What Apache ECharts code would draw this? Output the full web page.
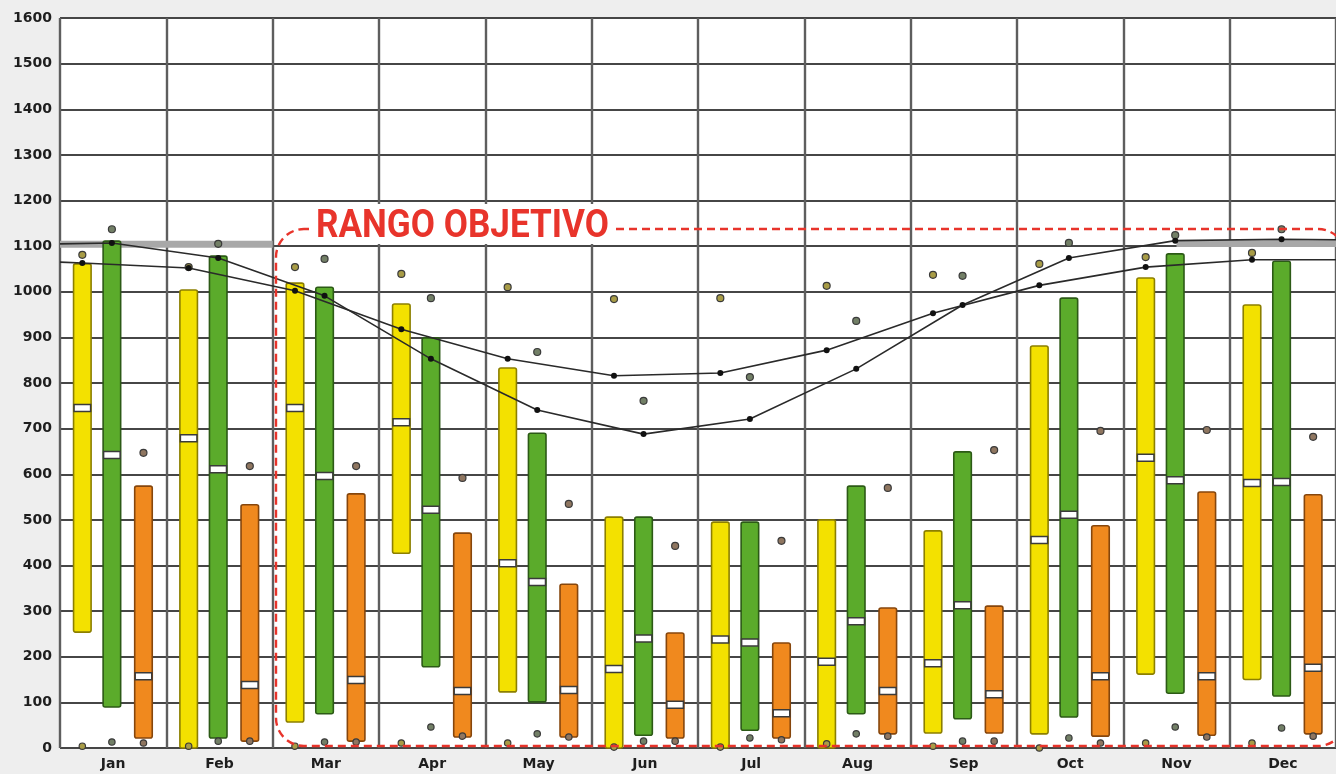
<!DOCTYPE html>
<html>
<head>
<meta charset="utf-8">
<title>Rango objetivo</title>
<script src="https://cdn.jsdelivr.net/npm/echarts@6/dist/echarts.min.js"></script>
<style>
  html, body { margin: 0; padding: 0; background: #eeeeee; }
  #main { width: 1336px; height: 774px; }
</style>
</head>
<body>
<div id="main"></div>
<script>
// months on the x axis
var months = ['Jan', 'Feb', 'Mar', 'Apr', 'May', 'Jun', 'Jul', 'Aug', 'Sep', 'Oct', 'Nov', 'Dec'];
var yTicks = [0, 100, 200, 300, 400, 500, 600, 700, 800, 900, 1000, 1100, 1200, 1300, 1400, 1500, 1600];

// yellow boxes
var yellowLow  = [254, 0, 57, 427, 123, 0, 0, 0, 33, 31, 162, 150];
var yellowHigh = [1061, 1004, 1019, 973, 833, 506, 495, 500, 476, 881, 1030, 971];
var yellowMed  = [745, 679, 745, 714, 405, 173, 238, 189, 186, 456, 636, 581];
var yellowDotHi = [1081, 1054, 1054, 1039, 1010, 984, 986, 1013, 1037, 1061, 1076, 1085];
var yellowDotLo = [4, 4, 4, 11, 11, 2, 2, 9, 4, 0, 11, 11];

// green boxes
var greenLow  = [90, 22, 75, 178, 101, 28, 39, 75, 64, 68, 120, 114];
var greenHigh = [1111, 1078, 1010, 899, 690, 506, 495, 574, 649, 986, 1083, 1067];
var greenMed  = [642, 611, 596, 522, 364, 240, 231, 278, 313, 511, 587, 583];
var greenDotHi = [1137, 1105, 1072, 986, 868, 761, 813, 936, 1035, 1107, 1124, 1137];
var greenDotLo = [13, 15, 13, 46, 31, 15, 22, 31, 15, 22, 46, 44];

// orange boxes
var orangeLow  = [22, 15, 15, 24, 24, 22, 22, 31, 33, 26, 28, 31];
var orangeHigh = [574, 533, 557, 471, 359, 252, 230, 307, 311, 487, 561, 555];
var orangeMed  = [157, 138, 149, 125, 127, 95, 76, 125, 118, 157, 157, 176];
var orangeDotHi = [647, 618, 618, 592, 535, 443, 454, 570, 653, 695, 697, 682];
var orangeDotLo = [11, 15, 13, 26, 24, 15, 18, 26, 15, 11, 24, 26];

// the two curves (yellow position and green position), plus their values at the edges
var curveYellow = [1063, 1052, 1002, 918, 853, 816, 822, 872, 953, 1014, 1054, 1070];
var curveGreen  = [1107, 1074, 991, 853, 741, 688, 721, 831, 971, 1074, 1112, 1115];
var curveYellowEdge = [1065, 1070];
var curveGreenEdge  = [1105, 1114];
var greyBandLeft  = [[0, 1104], [2, 1104]];
var greyBandRight = [[10.5, 1106], [12, 1106]];

var labelText = 'RANGO OBJETIVO';

// layout: where each box sits inside its month (fraction of a month)
var OFF_Y = -0.29, OFF_G = -0.012, OFF_O = 0.285;
var BAR_W = 0.165;

function boxSeries(name, fill, stroke, dotFill, off, low, high, med, dotHi, dotLo) {
  return {
    type: 'custom',
    name: name,
    xAxisIndex: 1,
    yAxisIndex: 0,
    z: 3,
    data: months.map(function (m, i) {
      return [i, low[i], high[i], med[i], dotHi[i], dotLo[i]];
    }),
    encode: { x: 0, y: [1, 2, 3, 4, 5] },
    renderItem: function (params, api) {
      var cx = api.value(0) + 0.5 + off;
      var w = api.size([BAR_W, 0])[0];
      var pLo = api.coord([cx, api.value(1)]);
      var pHi = api.coord([cx, api.value(2)]);
      var pMed = api.coord([cx, api.value(3)]);
      var pDH = api.coord([cx, api.value(4)]);
      var pDL = api.coord([cx, api.value(5)]);
      return {
        type: 'group',
        children: [
          { type: 'rect',
            shape: { x: pHi[0] - w / 2, y: pHi[1], width: w, height: pLo[1] - pHi[1], r: 2 },
            style: { fill: fill, stroke: stroke, lineWidth: 1.6 } },
          { type: 'rect',
            shape: { x: pMed[0] - w / 2 + 0.5, y: pMed[1] - 3.5, width: w - 1, height: 7 },
            style: { fill: '#ffffff', stroke: '#3a3a3a', lineWidth: 1.5 } },
          { type: 'circle',
            shape: { cx: pDH[0], cy: pDH[1], r: 3.5 },
            style: { fill: dotFill, stroke: '#3a3a3a', lineWidth: 1.2 } },
          { type: 'circle',
            shape: { cx: pDL[0], cy: pDL[1], r: 3.2 },
            style: { fill: dotFill, stroke: '#3a3a3a', lineWidth: 1.2 } }
        ]
      };
    }
  };
}

function curveData(vals, edge, off) {
  var d = [{ value: [0, edge[0]], symbol: 'none' }];
  vals.forEach(function (v, i) { d.push([i + 0.5 + off, v]); });
  d.push({ value: [12, edge[1]], symbol: 'none' });
  return d;
}

var chart = echarts.init(document.getElementById('main'));

var option = {
  backgroundColor: '#eeeeee',
  animation: false,
  grid: {
    left: 60, top: 18, right: -12, bottom: 26,
    show: true, backgroundColor: '#ffffff', borderWidth: 0
  },
  xAxis: [
    {
      type: 'category',
      data: months,
      boundaryGap: true,
      axisLine: { show: false },
      axisTick: { show: false },
      axisLabel: {
        margin: 9,
        color: '#1e1e1e',
        fontFamily: 'DejaVu Sans',
        fontWeight: 'bold',
        fontSize: 14
      },
      splitLine: { show: true, interval: 0, lineStyle: { color: '#5e5e5e', width: 2.4 } }
    },
    {
      type: 'value',
      min: 0, max: 12,
      show: false
    }
  ],
  yAxis: {
    type: 'value',
    min: yTicks[0],
    max: yTicks[yTicks.length - 1],
    interval: 100,
    axisLine: { show: false },
    axisTick: { show: false },
    axisLabel: {
      margin: 8,
      color: '#1e1e1e',
      fontFamily: 'DejaVu Sans',
      fontWeight: 'bold',
      fontSize: 14,
      formatter: function (v) { return String(v); }
    },
    splitLine: { show: true, lineStyle: { color: '#464646', width: 2 } }
  },
  series: [
    { type: 'line', xAxisIndex: 1, data: greyBandLeft, symbol: 'none', z: 2,
      lineStyle: { color: '#a8a8a8', width: 7 } },
    { type: 'line', xAxisIndex: 1, data: greyBandRight, symbol: 'none', z: 2,
      lineStyle: { color: '#a8a8a8', width: 7 } },
    boxSeries('yellow', '#f3e100', '#8c7f00', '#a89c46', OFF_Y, yellowLow, yellowHigh, yellowMed, yellowDotHi, yellowDotLo),
    boxSeries('green', '#5bab2b', '#2c5a16', '#727f66', OFF_G, greenLow, greenHigh, greenMed, greenDotHi, greenDotLo),
    boxSeries('orange', '#f0891e', '#86460c', '#8f7660', OFF_O, orangeLow, orangeHigh, orangeMed, orangeDotHi, orangeDotLo),
    { type: 'line', xAxisIndex: 1, z: 5,
      data: curveData(curveYellow, curveYellowEdge, OFF_Y),
      symbol: 'circle', symbolSize: 6,
      itemStyle: { color: '#111111' },
      lineStyle: { color: '#2a2a2a', width: 1.6 } },
    { type: 'line', xAxisIndex: 1, z: 5,
      data: curveData(curveGreen, curveGreenEdge, OFF_G),
      symbol: 'circle', symbolSize: 6,
      itemStyle: { color: '#111111' },
      lineStyle: { color: '#2a2a2a', width: 1.6 } }
  ],
  graphic: [
    {
      type: 'rect',
      z: 100,
      shape: { x: 276, y: 229, width: 1070, height: 517, r: 28 },
      style: { fill: null, stroke: '#e8342b', lineWidth: 2.4, lineDash: [8, 5] }
    },
    {
      type: 'rect',
      z: 101,
      shape: { x: 309, y: 204, width: 306, height: 40 },
      style: { fill: '#ffffff' }
    },
    {
      type: 'text',
      z: 102,
      x: 316, y: 227,
      scaleX: 0.9,
      originX: 0,
      originY: 0,
      style: {
        text: labelText,
        fill: '#e8342b',
        font: 'bold 39px Roboto',
        verticalAlign: 'middle'
      }
    }
  ]
};

chart.setOption(option);
</script>
</body>
</html>
